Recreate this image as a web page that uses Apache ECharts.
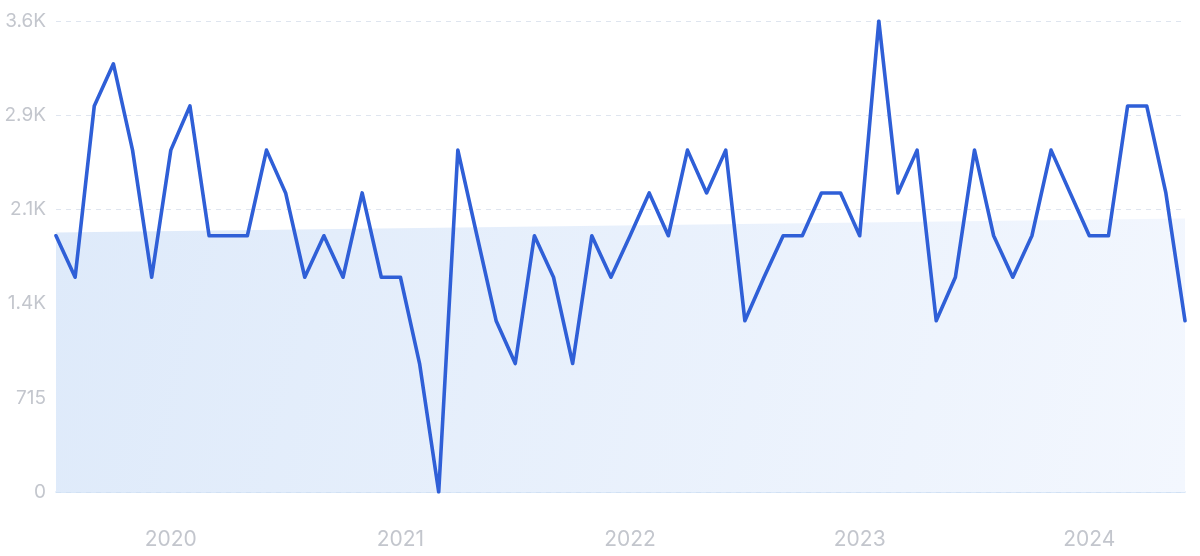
<!DOCTYPE html>
<html>
<head>
<meta charset="utf-8">
<script src="https://cdn.jsdelivr.net/npm/echarts@6/dist/echarts.min.js"></script>
<style>
  html, body { margin: 0; padding: 0; background: #ffffff; }
  #chart { width: 1200px; height: 556px; }
</style>
</head>
<body>
<div id="chart"></div>
<script>
const months = [
  '2019-07','2019-08','2019-09','2019-10','2019-11','2019-12',
  '2020-01','2020-02','2020-03','2020-04','2020-05','2020-06','2020-07','2020-08','2020-09','2020-10','2020-11','2020-12',
  '2021-01','2021-02','2021-03','2021-04','2021-05','2021-06','2021-07','2021-08','2021-09','2021-10','2021-11','2021-12',
  '2022-01','2022-02','2022-03','2022-04','2022-05','2022-06','2022-07','2022-08','2022-09','2022-10','2022-11','2022-12',
  '2023-01','2023-02','2023-03','2023-04','2023-05','2023-06','2023-07','2023-08','2023-09','2023-10','2023-11','2023-12',
  '2024-01','2024-02','2024-03','2024-04','2024-05','2024-06'
];
const searches = [
  1945,1630,2930,3250,2595,1630,
  2595,2930,1945,1945,1945,2595,2270,1630,1945,1630,2270,1630,
  1630,975,0,2595,1945,1300,975,1945,1630,975,1945,1630,
  1945,2270,1945,2595,2270,2595,1300,1630,1945,1945,2270,2270,
  1945,3575,2270,2595,1300,1630,2595,1945,1630,1945,2595,2270,
  1945,1945,2930,2930,2270,1300
];
const trendStart = 1970;
const trendEnd = 2075;
const yTickLabels = ['0', '715', '1.4K', '2.1K', '2.9K', '3.6K'];
const yStep = 715;

const trend = months.map((m, i) => i === 0 ? trendStart : (i === months.length - 1 ? trendEnd : null));

const chart = echarts.init(document.getElementById('chart'), null, { renderer: 'canvas' });
chart.setOption({
  animation: false,
  backgroundColor: '#ffffff',
  grid: { left: 56, right: 15, top: 21, bottom: 64, containLabel: false },
  xAxis: {
    type: 'category',
    data: months,
    boundaryGap: false,
    axisLine: { show: true, lineStyle: { color: '#cddff6', width: 1.5 } },
    axisTick: { show: false },
    splitLine: { show: false },
    axisLabel: {
      interval: (idx, val) => val.endsWith('-01'),
      formatter: (val) => val.slice(0, 4),
      color: '#c3c6cd',
      fontSize: 21,
      fontFamily: 'Inter, Roboto, sans-serif',
      margin: 37
    }
  },
  yAxis: {
    type: 'value',
    min: 0,
    max: yStep * 5,
    interval: yStep,
    axisLine: { show: false },
    axisTick: { show: false },
    axisLabel: {
      formatter: (v) => yTickLabels[Math.round(v / yStep)],
      color: '#c3c6cd',
      fontSize: 19,
      fontFamily: 'Inter, Roboto, sans-serif',
      margin: 10
    },
    splitLine: { show: true, lineStyle: { color: '#dfe5ef', type: [5, 5], width: 1 } }
  },
  series: [
    {
      type: 'line',
      data: trend,
      connectNulls: true,
      showSymbol: false,
      silent: true,
      z: 1,
      lineStyle: { width: 0, opacity: 0 },
      areaStyle: {
        opacity: 1,
        color: new echarts.graphic.LinearGradient(0, 0, 1, 1, [
          { offset: 0, color: '#deeafa' },
          { offset: 1, color: '#f3f7fe' }
        ])
      }
    },
    {
      type: 'line',
      data: searches,
      showSymbol: false,
      z: 3,
      lineStyle: { color: '#2f5fd7', width: 3.6, join: 'round', cap: 'round' },
      itemStyle: { color: '#2f5fd7' }
    }
  ]
});
</script>
</body>
</html>
